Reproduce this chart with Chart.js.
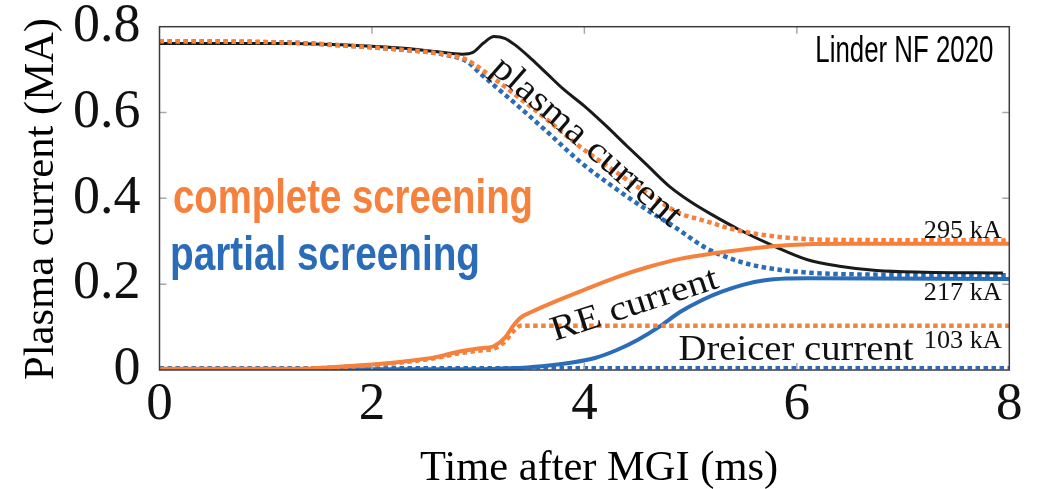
<!DOCTYPE html>
<html>
<head>
<meta charset="utf-8">
<script src="https://cdn.jsdelivr.net/npm/chart.js@4.4.1/dist/chart.umd.min.js"></script>
<style>
  html, body { margin: 0; padding: 0; background: #fff; }
  canvas { display: block; }
</style>
</head>
<body>
<canvas id="canvas" width="1038" height="489"></canvas>
<script>
const X_TICKS = [0, 2, 4, 6, 8];
const Y_TICKS = [0, 0.2, 0.4, 0.6, 0.8];

// plasma current, black
const tPlasma = [0, 1.2, 1.8, 2.3, 2.6, 2.85, 2.95, 3.05, 3.15, 3.25, 3.35, 3.5, 3.65, 3.8, 4.0, 4.2, 4.4, 4.6, 4.8, 5.0, 5.2, 5.45, 5.8, 6.1, 6.4, 6.75, 7.2, 7.94];
const iPlasma = [0.761, 0.761, 0.757, 0.750, 0.742, 0.736, 0.740, 0.762, 0.777, 0.773, 0.757, 0.725, 0.690, 0.655, 0.615, 0.570, 0.522, 0.475, 0.428, 0.392, 0.362, 0.328, 0.287, 0.257, 0.242, 0.232, 0.228, 0.226];

// plasma current, complete screening (orange dotted)
const tPlasmaCS = [0, 1.2, 1.8, 2.3, 2.7, 2.9, 3.05, 3.33, 3.65, 3.96, 4.27, 4.59, 4.9, 5.1, 5.45, 5.8, 6.1, 6.5, 8];
const iPlasmaCS = [0.766, 0.763, 0.755, 0.746, 0.735, 0.722, 0.697, 0.645, 0.583, 0.520, 0.466, 0.412, 0.365, 0.350, 0.325, 0.311, 0.305, 0.303, 0.302];

// plasma current, partial screening (blue dotted)
const tPlasmaPS = [0, 1.2, 1.8, 2.3, 2.7, 2.9, 3.02, 3.33, 3.65, 3.96, 4.27, 4.59, 4.84, 5.14, 5.47, 5.79, 6.11, 6.5, 8];
const iPlasmaPS = [0.766, 0.763, 0.755, 0.746, 0.734, 0.718, 0.691, 0.625, 0.555, 0.485, 0.427, 0.373, 0.335, 0.285, 0.252, 0.235, 0.227, 0.223, 0.221];

// RE current, complete screening (orange solid)
const tRECS = [0, 1.3, 1.65, 2.0, 2.3, 2.6, 2.8, 3.0, 3.15, 3.25, 3.33, 3.4, 3.5, 3.7, 4.0, 4.3, 4.6, 4.9, 5.25, 5.5, 5.8, 6.1, 6.5, 8];
const iRECS = [0.003, 0.003, 0.007, 0.013, 0.020, 0.030, 0.042, 0.050, 0.056, 0.075, 0.103, 0.122, 0.135, 0.157, 0.187, 0.216, 0.240, 0.259, 0.273, 0.281, 0.289, 0.293, 0.294, 0.294];

// RE current, partial screening (blue solid)
const tREPS = [0, 3.0, 3.3, 3.6, 3.9, 4.1, 4.3, 4.5, 4.7, 4.9, 5.1, 5.3, 5.5, 5.7, 5.9, 6.1, 8];
const iREPS = [0.002, 0.002, 0.004, 0.009, 0.018, 0.028, 0.046, 0.070, 0.100, 0.135, 0.162, 0.183, 0.199, 0.209, 0.213, 0.214, 0.212];

// Dreicer current, complete screening (orange dotted)
const tDreicerCS = [0, 1.3, 1.65, 2.0, 2.3, 2.6, 2.8, 3.0, 3.15, 3.25, 3.33, 3.4, 8];
const iDreicerCS = [0.002, 0.002, 0.006, 0.011, 0.018, 0.028, 0.038, 0.045, 0.050, 0.066, 0.090, 0.103, 0.103];

// Dreicer current, partial screening (blue dotted)
const tDreicerPS = [0, 8];
const iDreicerPS = [0.005, 0.005];

const ORANGE = '#f5813c';
const BLUE = '#2b6cb8';
const BLACK = '#1a1a1a';

function pts(ts, vs) {
    return ts.map((t, i) => ({x: t, y: vs[i]}));
}

function line(data, color, width, dotted) {
    return {
        data: data,
        borderColor: color,
        borderWidth: width,
        borderDash: dotted ? [4.5, 3.5] : [],
        borderCapStyle: 'butt',
        pointRadius: 0,
        fill: false,
        cubicInterpolationMode: 'monotone'
    };
}

// draw text squeezed/stretched to a given width
function fitText(ctx, str, x, y, w, angle, align) {
    const m = ctx.measureText(str).width;
    ctx.save();
    ctx.translate(x, y);
    ctx.rotate(angle * Math.PI / 180);
    ctx.scale(w / m, 1);
    ctx.textAlign = align;
    ctx.fillText(str, 0, 0);
    ctx.restore();
}

const frame = {
    id: 'frame',
    afterDatasetsDraw(chart) {
        const ctx = chart.ctx;
        const a = chart.chartArea;
        const xs = chart.scales.x, ys = chart.scales.y;
        const px = v => xs.getPixelForValue(v);
        const py = v => ys.getPixelForValue(v);

        // inner ticks
        ctx.save();
        ctx.strokeStyle = '#a8a8a8';
        ctx.lineWidth = 1.5;
        ctx.beginPath();
        X_TICKS.slice(1, -1).forEach(v => {
            ctx.moveTo(px(v), a.bottom); ctx.lineTo(px(v), a.bottom - 7);
            ctx.moveTo(px(v), a.top); ctx.lineTo(px(v), a.top + 7);
        });
        Y_TICKS.slice(1, -1).forEach(v => {
            ctx.moveTo(a.left, py(v)); ctx.lineTo(a.left + 7, py(v));
            ctx.moveTo(a.right, py(v)); ctx.lineTo(a.right - 7, py(v));
        });
        ctx.stroke();
        ctx.strokeStyle = '#3c3c3c';
        ctx.lineWidth = 1.5;
        ctx.strokeRect(a.left, a.top, a.right - a.left, a.bottom - a.top);

        ctx.textBaseline = 'alphabetic';
        ctx.fillStyle = '#000';
        ctx.font = '37px "Liberation Sans"';
        fitText(ctx, 'Linder NF 2020', px(7.85), py(0.7185), 178, 0, 'right');

        ctx.font = 'bold 49px "Liberation Sans"';
        ctx.fillStyle = ORANGE;
        fitText(ctx, 'complete screening', px(0.127), py(0.365), 360, 0, 'left');
        ctx.fillStyle = BLUE;
        fitText(ctx, 'partial screening', px(0.099), py(0.233), 310, 0, 'left');

        ctx.fillStyle = '#111';
        ctx.font = '36px "Liberation Serif"';
        fitText(ctx, 'plasma current', px(3.959), py(0.514), 240, 41, 'center');
        ctx.font = '35px "Liberation Serif"';
        fitText(ctx, 'RE current', px(4.50), py(0.130), 174, -18, 'center');
        fitText(ctx, 'Dreicer current', px(4.886), py(0.0233), 235, 0, 'left');

        ctx.font = '26px "Liberation Serif"';
        fitText(ctx, '295 kA', px(7.929), py(0.307), 78, 0, 'right');
        fitText(ctx, '217 kA', px(7.929), py(0.163), 78, 0, 'right');
        fitText(ctx, '103 kA', px(7.929), py(0.0506), 78, 0, 'right');

        // axis titles
        ctx.fillStyle = '#000';
        ctx.font = '42px "Liberation Serif"';
        fitText(ctx, 'Time after MGI (ms)', px(4.138), 480, 358, 0, 'center');
        fitText(ctx, 'Plasma current (MA)', 53, py(0.3985), 362, -90, 'center');
        ctx.restore();
    }
};

const ctx = document.getElementById('canvas').getContext('2d');
const myChart = new Chart(ctx, {
    type: 'line',
    data: {
        datasets: [
            line(pts(tPlasmaCS, iPlasmaCS), ORANGE, 4.5, true),
            line(pts(tRECS, iRECS), ORANGE, 4, false),
            line(pts(tDreicerCS, iDreicerCS), ORANGE, 4.5, true),
            line(pts(tPlasma, iPlasma), BLACK, 3, false),
            line(pts(tPlasmaPS, iPlasmaPS), BLUE, 4.5, true),
            line(pts(tREPS, iREPS), BLUE, 4, false),
            line(pts(tDreicerPS, iDreicerPS), BLUE, 3.5, true)
        ]
    },
    options: {
        responsive: false,
        animation: false,
        devicePixelRatio: 1,
        layout: { padding: { left: 0, right: 28.7, top: 26.7, bottom: 0 } },
        plugins: { legend: { display: false }, tooltip: { enabled: false } },
        scales: {
            x: {
                type: 'linear',
                min: 0, max: 8,
                grid: { display: false, drawTicks: false },
                border: { display: false },
                afterBuildTicks: s => { s.ticks = X_TICKS.map(v => ({value: v})); },
                afterFit: s => { s.height = 119; s.paddingLeft = 0; s.paddingRight = 0; },
                ticks: {
                    color: '#111',
                    padding: 9,
                    maxRotation: 0,
                    font: { family: 'Liberation Serif', size: 53, lineHeight: 1.0 },
                    callback: v => String(v)
                }
            },
            y: {
                min: 0, max: 0.8,
                grid: { display: false, drawTicks: false },
                border: { display: false },
                afterBuildTicks: s => { s.ticks = Y_TICKS.map(v => ({value: v})); },
                afterFit: s => { s.width = 159.5; s.paddingTop = 0; s.paddingBottom = 0; },
                ticks: {
                    color: '#111',
                    padding: 19,
                    font: { family: 'Liberation Serif', size: 54, lineHeight: 0.9 },
                    callback: v => String(Math.round(v * 10) / 10)
                }
            }
        }
    },
    plugins: [frame]
});
</script>
</body>
</html>
